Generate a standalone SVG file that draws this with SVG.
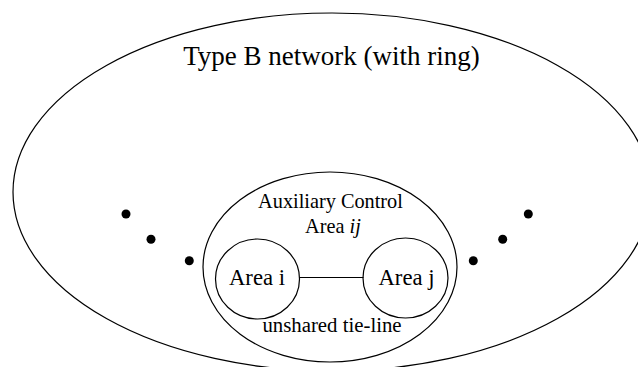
<svg xmlns="http://www.w3.org/2000/svg" width="638" height="367" viewBox="0 0 638 367">
  <style>
    .ring { fill: none; stroke: #000; stroke-width: 1.2; }
    .dot { fill: #000; }
    .lbl { font-family: "Liberation Serif", "Times New Roman", serif; fill: #000; text-anchor: middle; }
    .link { stroke: #000; stroke-width: 1.2; fill: none; }
  </style>
  <rect width="638" height="367" fill="#fff"/>

  <g id="network">
    <ellipse class="ring" cx="332" cy="192" rx="319" ry="179"/>
    <text class="lbl" x="331.5" y="65" font-size="27">Type B network (with ring)</text>
  </g>

  <g id="dots-left">
    <circle class="dot" cx="126" cy="214" r="4.5"/>
    <circle class="dot" cx="151" cy="239.3" r="4.5"/>
    <circle class="dot" cx="189.3" cy="260.7" r="4.5"/>
  </g>
  <g id="dots-right">
    <circle class="dot" cx="528.3" cy="214" r="4.5"/>
    <circle class="dot" cx="502.7" cy="239.3" r="4.5"/>
    <circle class="dot" cx="473.3" cy="260.7" r="4.5"/>
  </g>

  <g id="aux-area">
    <ellipse class="ring" cx="330" cy="267" rx="127" ry="95"/>
    <text class="lbl" x="330.5" y="208" font-size="20.3">Auxiliary Control</text>
    <text class="lbl" x="333" y="233" font-size="20.3">Area <tspan font-style="italic">ij</tspan></text>
    <text class="lbl" x="332" y="331.7" font-size="20.8">unshared tie-line</text>
  </g>

  <g id="connectors">
    <line class="link" x1="299.5" y1="277.5" x2="363.5" y2="277.5"/>
  </g>

  <g id="area-i">
    <ellipse class="ring" cx="257.5" cy="279" rx="42" ry="40"/>
    <text class="lbl" x="257" y="285" font-size="22.7">Area i</text>
  </g>

  <g id="area-j">
    <ellipse class="ring" cx="405.5" cy="278" rx="42.5" ry="40"/>
    <text class="lbl" x="406.5" y="285" font-size="22.7">Area j</text>
  </g>
</svg>
